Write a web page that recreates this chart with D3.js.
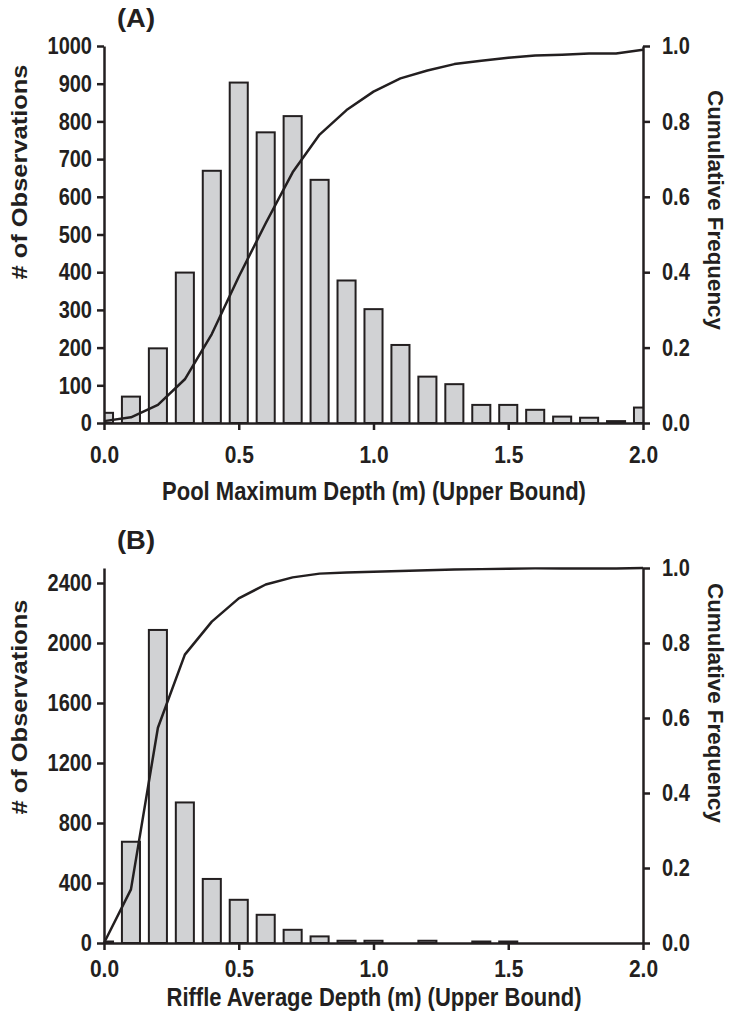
<!DOCTYPE html>
<html><head><meta charset="utf-8">
<script src="https://cdn.jsdelivr.net/npm/d3@7"></script>
<style>
body{margin:0;background:#fff;}
svg text{font-family:"Liberation Sans",Arial,Helvetica,sans-serif;font-weight:bold;fill:#231f20;}
</style></head><body>
<svg id="c" width="730" height="1021"></svg>
<script>
// ---- data ----
const depthBins = [0.0,0.1,0.2,0.3,0.4,0.5,0.6,0.7,0.8,0.9,1.0,1.1,1.2,1.3,1.4,1.5,1.6,1.7,1.8,1.9,2.0];
const poolCounts = [27,70,198,399,669,903,771,814,645,378,302,207,123,103,48,48,35,17,14,5,41];
const poolCumulative = [0.005,0.015,0.048,0.116,0.236,0.388,0.53,0.665,0.765,0.83,0.879,0.914,0.935,0.952,0.961,0.969,0.975,0.977,0.98,0.98,0.99];
const riffleCounts = [10,675,2087,937,427,288,188,88,44,15,15,0,15,0,10,10,0,0,0,0,0];
const riffleCumulative = [0,0.143,0.574,0.769,0.857,0.919,0.956,0.975,0.985,0.988,0.99,0.992,0.994,0.996,0.997,0.998,0.999,0.999,0.999,0.999,1.0];
const xTicks = [0,0.5,1.0,1.5,2.0];
const poolYTicks = [0,100,200,300,400,500,600,700,800,900,1000];
const riffleYTicks = [0,400,800,1200,1600,2000,2400];
const cumTicks = [0,0.2,0.4,0.6,0.8,1.0];

const svg = d3.select("#c");
const INK = "#231f20";
const LEFT = 104, RIGHT = 643;
const SY = 1.18; // vertical stretch of lettering in the reference

function stretchTicks(sel, tx, ty, dy, size){
  sel.selectAll(".tick text").each(function(){
    d3.select(this).attr("x",0).attr("y",0).attr("dy",dy)
      .attr("transform",`translate(${tx},${ty}) scale(1,${SY})`)
      .style("font-size",size+"px").attr("fill",INK);
  });
}

function panel(cfg){
  const g = svg.append("g");
  const x = d3.scaleLinear().domain([0,2]).range([LEFT,RIGHT]);
  const yL = d3.scaleLinear().domain([0,cfg.yMax]).range([cfg.bottom,cfg.top]);
  const yR = d3.scaleLinear().domain([0,1]).range([cfg.bottom,cfg.top]);
  const clipId = "clip"+cfg.id;
  svg.append("clipPath").attr("id",clipId).append("rect")
    .attr("x",LEFT).attr("y",cfg.top-20).attr("width",RIGHT-LEFT).attr("height",cfg.bottom-cfg.top+20);
  const half = (x(0.1)-x(0))*0.335;
  g.append("g").attr("clip-path",`url(#${clipId})`)
    .selectAll("rect").data(depthBins.map((d,i)=>({d,v:cfg.counts[i]}))).join("rect")
    .attr("x",p=>x(p.d)-half).attr("width",half*2)
    .attr("y",p=>yL(p.v)).attr("height",p=>cfg.bottom-yL(p.v))
    .attr("fill","#d1d2d4").attr("stroke",INK).attr("stroke-width",2);
  const line = d3.line().x((d,i)=>x(depthBins[i])).y(d=>yR(d));
  g.append("path").datum(cfg.cum).attr("d",line).attr("fill","none")
    .attr("stroke",INK).attr("stroke-width",2.5).attr("stroke-linejoin","round");

  const ax = g.append("g").attr("transform",`translate(0,${cfg.bottom})`)
    .call(d3.axisBottom(x).tickValues(xTicks).tickFormat(d3.format(".1f")).tickSize(7).tickSizeOuter(0));
  stretchTicks(ax, 0, cfg.xTickTop, "0.71em", 21);
  const al = g.append("g").attr("transform",`translate(${LEFT},0)`)
    .call(d3.axisLeft(yL).tickValues(cfg.yTicks).tickFormat(d3.format("d")).tickSize(7).tickSizeOuter(0));
  stretchTicks(al, -12, 0, "0.33em", 20);
  const ar = g.append("g").attr("transform",`translate(${RIGHT},0)`)
    .call(d3.axisRight(yR).tickValues(cumTicks).tickFormat(d3.format(".1f")).tickSize(7).tickSizeOuter(0));
  stretchTicks(ar, 19, 0, "0.33em", 20);
  g.selectAll(".domain, .tick line").attr("stroke",INK).attr("stroke-width",2.5);

  g.append("text").attr("transform",`translate(117,${cfg.top-19}) scale(1,${SY})`)
    .attr("textLength",38).attr("lengthAdjust","spacingAndGlyphs")
    .style("font-size","22px").text(cfg.label);
  g.append("text").attr("transform",`translate(27,${cfg.leftTitleY}) rotate(-90)`).attr("text-anchor","middle")
    .attr("textLength",215).attr("lengthAdjust","spacingAndGlyphs")
    .style("font-size","22px").text("# of Observations");
  g.append("text").attr("transform",`translate(708,${cfg.rightTitleY}) rotate(90)`).attr("text-anchor","middle")
    .attr("textLength",240).attr("lengthAdjust","spacingAndGlyphs")
    .style("font-size","22px").text("Cumulative Frequency");
  g.append("text").attr("transform",`translate(374,${cfg.xTitleBase}) scale(1,${SY})`).attr("text-anchor","middle")
    .style("font-size","22px").text(cfg.xTitle);
}

panel({id:"A",top:46,bottom:423,yMax:1000,yTicks:poolYTicks,counts:poolCounts,cum:poolCumulative,
  label:"(A)",xTitle:"Pool Maximum Depth (m) (Upper Bound)",leftTitleY:172,rightTitleY:210,xTickTop:22,xTitleBase:500});
panel({id:"B",top:568,bottom:943,yMax:2500,yTicks:riffleYTicks,counts:riffleCounts,cum:riffleCumulative,
  label:"(B)",xTitle:"Riffle Average Depth (m) (Upper Bound)",leftTitleY:707,rightTitleY:703,xTickTop:16,xTitleBase:1006});
</script></body></html>
